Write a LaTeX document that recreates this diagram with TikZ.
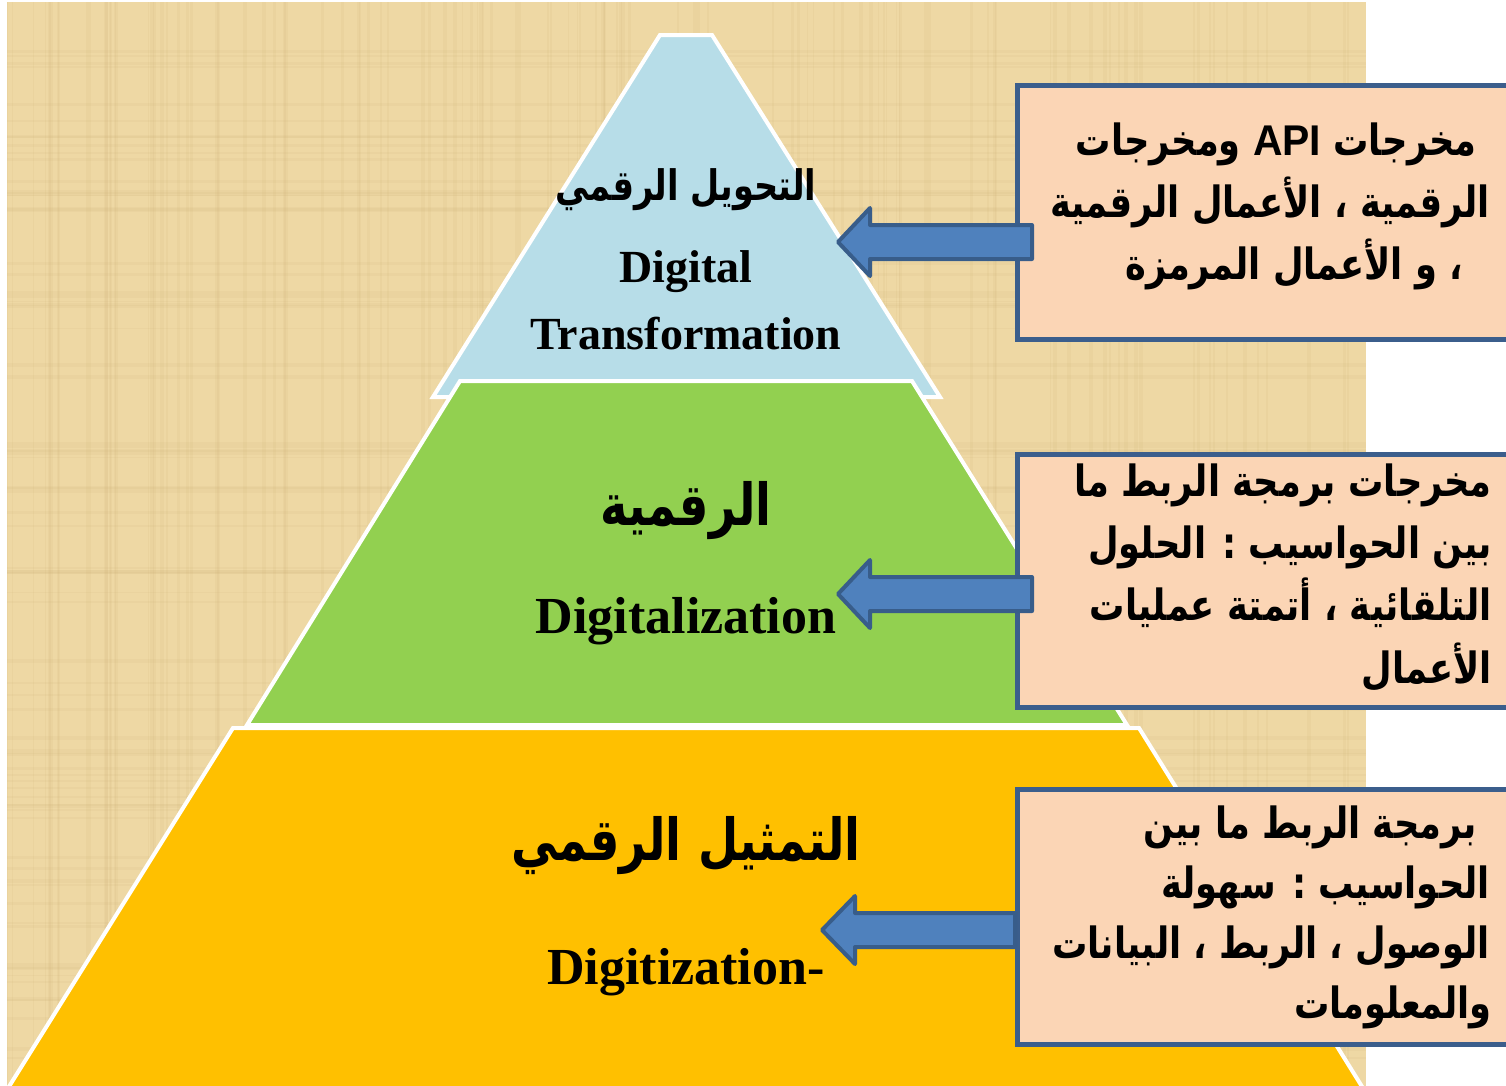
\documentclass[tikz,border=0pt]{standalone}
\usepackage{fontspec}
\setmainfont{Liberation Serif}
\newfontfamily\arabicfont[Script=Arabic, FakeStretch=0.82]{DejaVu Sans}
\newfontfamily\arabiclvl[Script=Arabic, FakeStretch=0.8]{DejaVu Sans}
\newfontfamily\latinsans[FakeStretch=0.95]{Liberation Sans}
\TeXXeTstate=1
\definecolor{bgtan}{HTML}{EED8A4}
\definecolor{texdark}{HTML}{C2A468}
\definecolor{toplayer}{HTML}{B7DDE8}
\definecolor{midlayer}{HTML}{92D050}
\definecolor{botlayer}{HTML}{FFC000}
\definecolor{boxfill}{HTML}{FBD5B5}
\definecolor{boxedge}{HTML}{3B5E8C}
\definecolor{arrowfill}{HTML}{4F81BD}
\definecolor{arrowedge}{HTML}{385D8A}
\tikzset{
  layer/.style={draw=white, line width=4pt, line join=miter},
  infobox/.style={draw=boxedge, fill=boxfill, line width=4.5pt, rectangle, inner sep=0pt, anchor=north west},
  blockarr/.style={draw=arrowedge, fill=arrowfill, line width=4pt, line join=round},
  artxt/.style={font=\arabicfont\bfseries\fontsize{43}{51}\selectfont, anchor=base east, inner sep=0pt},
  lvlar/.style={font=\arabiclvl\bfseries\fontsize{58}{66}\selectfont, anchor=base, inner sep=0pt},
  lvlen/.style={font=\bfseries\fontsize{52}{60}\selectfont, anchor=base, inner sep=0pt},
}
\begin{document}
\begin{tikzpicture}[x=1pt,y=-1pt]
\useasboundingbox (0,0) rectangle (1506,1085);
\clip (0,0) rectangle (1506,1085);
% textured background
\fill[bgtan] (7,2) rectangle (1366,1090);
\pgfmathsetseed{7}
\begin{scope}
\clip (7,2) rectangle (1366,1090);
\foreach \i in {1,...,110}{
  \pgfmathsetmacro{\xx}{7+1359*rnd}
  \pgfmathsetmacro{\ww}{1+3*rnd}
  \draw[texdark, opacity=0.09, line width=\ww pt] (\xx,2) -- (\xx,1090);
}
\foreach \i in {1,...,80}{
  \pgfmathsetmacro{\yy}{2+1083*rnd}
  \pgfmathsetmacro{\ww}{1+3*rnd}
  \draw[texdark, opacity=0.08, line width=\ww pt] (7,\yy) -- (1366,\yy);
}
\end{scope}
% pyramid layers
\filldraw[layer, fill=toplayer] (660,35) -- (712,35) -- (940,397) -- (433,397) -- cycle;
\filldraw[layer, fill=midlayer] (460,381) -- (912,381) -- (1127,725) -- (247,725) -- cycle;
\filldraw[layer, fill=botlayer] (233,728) -- (1139,728) -- (1366,1093) -- (5,1093) -- cycle;
% level labels
\node[lvlar, font=\arabiclvl\bfseries\fontsize{42}{50}\selectfont] (l1ar) at (686,200) {\beginR التحويل الرقمي\endR};
\node[lvlen, font=\bfseries\fontsize{46}{54}\selectfont] (l1en1) at (686,282) {Digital};
\node[lvlen, font=\bfseries\fontsize{46}{54}\selectfont] (l1en2) at (686,349) {Transformation};
\node[lvlar] (l2ar) at (686,525) {\beginR الرقمية\endR};
\node[lvlen] (l2en) at (686,633) {Digitalization};
\node[lvlar] (l3ar) at (686,860) {\beginR التمثيل الرقمي\endR};
\node[lvlen] (l3en) at (686,984) {Digitization-};
% info boxes
\node[infobox, minimum width=530pt, minimum height=254pt] (b1) at (1015,83) {};
\node[infobox, minimum width=530pt, minimum height=253pt] (b2) at (1015,452) {};
\node[infobox, minimum width=530pt, minimum height=255pt] (b3) at (1015,787) {};
% box texts
\node[artxt] (b1a) at (1477,155) {\beginR مخرجات \beginL{\latinsans\bfseries API}\endL{} ومخرجات\endR};
\node[artxt] (b1b) at (1490,217) {\beginR الرقمية ، الأعمال الرقمية\endR};
\node[artxt] (b1c) at (1463,279) {\beginR ، و الأعمال المرمزة\endR};
\node[artxt] (b2a) at (1492,496) {\beginR مخرجات برمجة الربط ما\endR};
\node[artxt] (b2b) at (1492,558) {\beginR بين الحواسيب : الحلول\endR};
\node[artxt] (b2c) at (1492,620) {\beginR التلقائية ، أتمتة عمليات\endR};
\node[artxt] (b2d) at (1492,683) {\beginR الأعمال\endR};
\node[artxt] (b3a) at (1477,838) {\beginR برمجة الربط ما بين\endR};
\node[artxt] (b3b) at (1490,898) {\beginR الحواسيب : سهولة\endR};
\node[artxt] (b3c) at (1490,958) {\beginR الوصول ، الربط ، البيانات\endR};
\node[artxt] (b3d) at (1492,1018) {\beginR والمعلومات\endR};
% block arrows (box -> level)
\coordinate (t1) at (838,242);
\coordinate (t2) at (838,594);
\coordinate (t3) at (822,930);
\draw[blockarr] (t1) -- ++(32,-34) -- ++(0,17) -- ([xshift=17pt]b1.west |- 0,225) -- ([xshift=17pt]b1.west |- 0,259) -- (870,259) -- (870,276) -- cycle;
\draw[blockarr] (t2) -- ++(32,-34) -- ++(0,17) -- ([xshift=17pt]b2.west |- 0,577) -- ([xshift=17pt]b2.west |- 0,611) -- (870,611) -- (870,628) -- cycle;
\draw[blockarr] (t3) -- ++(33,-34) -- ++(0,17) -- (b3.west |- 0,913) -- (b3.west |- 0,947) -- (855,947) -- (855,964) -- cycle;
\end{tikzpicture}
\end{document}
